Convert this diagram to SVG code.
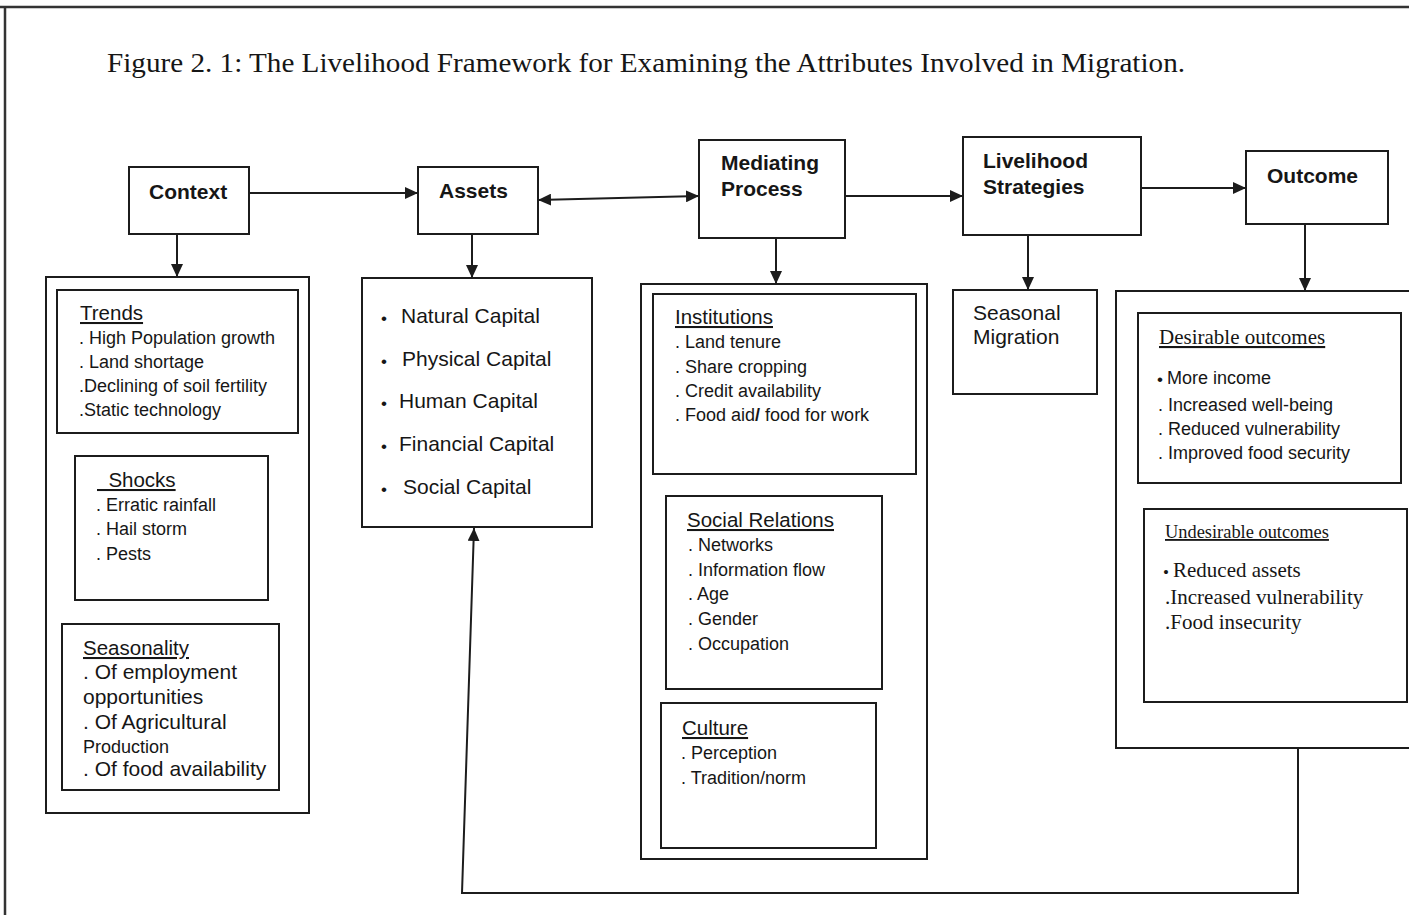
<svg xmlns="http://www.w3.org/2000/svg" width="1409" height="915" viewBox="0 0 1409 915">
<style>
text{fill:#161616;font-family:"Liberation Sans",Arial,sans-serif}
.box{fill:#fff;stroke:#1c1c1c;stroke-width:2}
.frame{fill:none;stroke:#333;stroke-width:2.5}
.hd{font-size:21px;font-weight:bold}
.sub{font-size:20.5px;text-decoration:underline}
.it{font-size:18px}
.big{font-size:21px}
.ser{font-family:"Liberation Serif","Times New Roman",serif}
.con{fill:none;stroke:#1c1c1c;stroke-width:2}
.bul{font-size:17px}
</style>
<defs>
<marker id="ah" viewBox="0 -6 13 12" refX="13" refY="0" markerWidth="13" markerHeight="12" markerUnits="userSpaceOnUse" orient="auto-start-reverse">
<path d="M0,-6 L13,0 L0,6 z" fill="#1c1c1c"/>
</marker>
</defs>
<rect width="1409" height="915" fill="#fff"/>
<path class="frame" d="M0,7 H1409 M5,7 V915"/>
<text class="ser" x="107" y="72" font-size="27" textLength="1078" lengthAdjust="spacingAndGlyphs">Figure 2. 1: The Livelihood Framework for Examining the Attributes Involved in Migration.</text>

<g id="context">
<rect class="box" x="129" y="167" width="120" height="67"/>
<text class="hd" x="149" y="199">Context</text>
</g>
<g id="context-detail">
<rect class="box" x="46" y="277" width="263" height="536"/>
<g id="trends">
<rect class="box" x="57" y="290" width="241" height="143"/>
<text class="sub" x="80" y="320">Trends</text>
<text class="it" font-size="17.5" x="79" y="344">. High Population growth</text>
<text class="it" font-size="17.5" x="79" y="368">. Land shortage</text>
<text class="it" font-size="17.8" x="79" y="392">.Declining of soil fertility</text>
<text class="it" font-size="17.5" x="79" y="416">.Static technology</text>
</g>
<g id="shocks">
<rect class="box" x="75" y="456" width="193" height="144"/>
<text class="sub" x="97" y="487">&#160;&#160;Shocks</text>
<text class="it" font-size="17.5" x="96" y="511">. Erratic rainfall</text>
<text class="it" font-size="17.5" x="96" y="535">. Hail storm</text>
<text class="it" font-size="17.5" x="96" y="560">. Pests</text>
</g>
<g id="seasonality">
<rect class="box" x="62" y="624" width="217" height="166"/>
<text class="sub" x="83" y="655">Seasonality</text>
<text class="big" font-size="20.5" x="83" y="679">. Of employment</text>
<text class="big" font-size="20.5" x="83" y="704">opportunities</text>
<text class="big" font-size="20.5" x="83" y="729">. Of Agricultural</text>
<text class="it" x="83" y="753">Production</text>
<text class="big" font-size="20" x="83" y="776">. Of food availability</text>
</g>
</g>

<g id="assets">
<rect class="box" x="418" y="167" width="120" height="67"/>
<text class="hd" x="439" y="198">Assets</text>
</g>
<g id="assets-list">
<rect class="box" x="362" y="278" width="230" height="249"/>
<text class="big" x="381" y="323"><tspan class="bul" dy="1">•</tspan><tspan x="401" dy="-1">Natural Capital</tspan></text>
<text class="big" x="381" y="366"><tspan class="bul" dy="1">•</tspan><tspan x="402" dy="-1">Physical Capital</tspan></text>
<text class="big" x="381" y="408"><tspan class="bul" dy="1">•</tspan><tspan x="399" dy="-1">Human Capital</tspan></text>
<text class="big" x="381" y="451"><tspan class="bul" dy="1">•</tspan><tspan x="399" dy="-1">Financial Capital</tspan></text>
<text class="big" x="381" y="494"><tspan class="bul" dy="1">•</tspan><tspan x="403" dy="-1">Social Capital</tspan></text>
</g>

<g id="mediating">
<rect class="box" x="699" y="140" width="146" height="98"/>
<text class="hd" x="721" y="170">Mediating</text>
<text class="hd" x="721" y="196">Process</text>
</g>
<g id="mediating-detail">
<rect class="box" x="641" y="284" width="286" height="575"/>
<g id="institutions">
<rect class="box" x="653" y="294" width="263" height="180"/>
<text class="sub" x="675" y="324">Institutions</text>
<text class="it" x="675" y="348">. Land tenure</text>
<text class="it" x="675" y="373">. Share cropping</text>
<text class="it" x="675" y="397">. Credit availability</text>
<text class="it" x="675" y="421">. Food aid<tspan font-weight="bold">/</tspan> food for work</text>
</g>
<g id="social-relations">
<rect class="box" x="666" y="496" width="216" height="193"/>
<text class="sub" x="687" y="527">Social Relations</text>
<text class="it" x="688" y="551">. Networks</text>
<text class="it" x="688" y="576">. Information flow</text>
<text class="it" x="688" y="600">. Age</text>
<text class="it" x="688" y="625">. Gender</text>
<text class="it" x="688" y="650">. Occupation</text>
</g>
<g id="culture">
<rect class="box" x="661" y="703" width="215" height="145"/>
<text class="sub" x="682" y="735">Culture</text>
<text class="it" x="681" y="759">. Perception</text>
<text class="it" x="681" y="784">. Tradition/norm</text>
</g>
</g>

<g id="livelihood-strategies">
<rect class="box" x="963" y="137" width="178" height="98"/>
<text class="hd" x="983" y="168">Livelihood</text>
<text class="hd" x="983" y="194">Strategies</text>
</g>
<g id="seasonal-migration">
<rect class="box" x="953" y="290" width="144" height="104"/>
<text class="big" x="973" y="320">Seasonal</text>
<text class="big" x="973" y="344">Migration</text>
</g>

<g id="outcome">
<rect class="box" x="1246" y="151" width="142" height="73"/>
<text class="hd" x="1267" y="183">Outcome</text>
</g>
<g id="outcome-detail">
<rect class="box" x="1116" y="291" width="300" height="457"/>
<g id="desirable">
<rect class="box" x="1138" y="313" width="263" height="170"/>
<text class="ser" font-size="21" text-decoration="underline" x="1159" y="344">Desirable outcomes</text>
<text class="it" x="1157" y="384"><tspan class="bul" dy="1">•</tspan><tspan x="1167" dy="-1">More income</tspan></text>
<text class="it" x="1158" y="411">. Increased well-being</text>
<text class="it" x="1158" y="435">. Reduced vulnerability</text>
<text class="it" x="1158" y="459">. Improved food security</text>
</g>
<g id="undesirable">
<rect class="box" x="1144" y="509" width="263" height="193"/>
<text class="ser" font-size="18.4" text-decoration="underline" x="1165" y="538">Undesirable outcomes</text>
<text class="ser" font-size="21" x="1163" y="577"><tspan class="bul" dy="1">•</tspan><tspan x="1173" dy="-1">Reduced assets</tspan></text>
<text class="ser" font-size="21" x="1165" y="604">.Increased vulnerability</text>
<text class="ser" font-size="21" x="1165" y="629">.Food insecurity</text>
</g>
</g>

<g id="connectors">
<path class="con" d="M249,193 H418" marker-end="url(#ah)"/>
<path class="con" d="M177,234 V277" marker-end="url(#ah)"/>
<path class="con" d="M538,200 L699,196" marker-start="url(#ah)" marker-end="url(#ah)"/>
<path class="con" d="M472,234 V278" marker-end="url(#ah)"/>
<path class="con" d="M845,196 H963" marker-end="url(#ah)"/>
<path class="con" d="M776,238 V284" marker-end="url(#ah)"/>
<path class="con" d="M1140,188 H1246" marker-end="url(#ah)"/>
<path class="con" d="M1028,235 V290" marker-end="url(#ah)"/>
<path class="con" d="M1305,224 V291" marker-end="url(#ah)"/>
<path class="con" d="M1298,748 V893 H462 L474,528" marker-end="url(#ah)"/>
</g>
</svg>
